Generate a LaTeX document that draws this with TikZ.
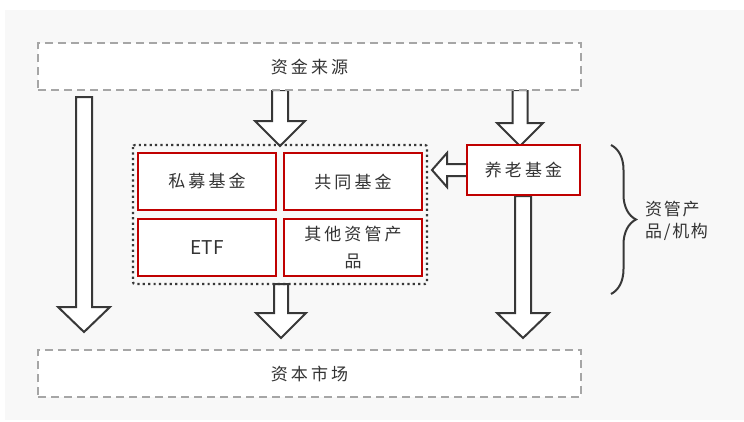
\documentclass[tikz,border=0pt]{standalone}
\usepackage{fontspec}
\setmainfont{Noto Sans CJK SC}
\usetikzlibrary{decorations.pathreplacing}
\definecolor{panel}{HTML}{F8F8F8}
\definecolor{dashgray}{HTML}{A6A6A6}
\definecolor{arrowdark}{HTML}{383838}
\definecolor{boxred}{HTML}{C00000}
\definecolor{txt}{HTML}{333333}
\newcommand\bkdown[6]{% cx, ytop, ybase, ytip, shafthalf, headhalf
  \draw[blockarrow] ({#1-#5},#2) -- ({#1+#5},#2) -- ({#1+#5},#3) -- ({#1+#6},#3)
    -- (#1,#4) -- ({#1-#6},#3) -- ({#1-#5},#3) -- cycle;}
\tikzset{
  dashbox/.style={draw=dashgray, line width=2pt, dash pattern=on 8pt off 5pt, fill=white,
    minimum width=543pt, minimum height=47pt, inner sep=0pt, text=txt,
    font=\fontsize{17pt}{20pt}\selectfont\addfontfeature{LetterSpace=18}},
  redbox/.style={draw=boxred, line width=2pt, fill=white, minimum width=138pt,
    minimum height=57pt, inner sep=0pt, text=txt, align=center,
    font=\fontsize{17pt}{27pt}\selectfont\addfontfeature{LetterSpace=18}},
  blockarrow/.style={draw=arrowdark, line width=2pt, fill=white, line join=miter},
  dotbox/.style={draw=arrowdark, line width=2.2pt, dash pattern=on 2.2pt off 3.2pt,
    rounded corners=2pt},
  bracetext/.style={text=txt, align=left, inner sep=0pt,
    font=\fontsize{17pt}{22pt}\selectfont\addfontfeature{LetterSpace=10}},
}
\begin{document}
\begin{tikzpicture}[x=1pt,y=-1pt]
\useasboundingbox (0,0) rectangle (744,421);
\fill[panel] (5,10) rectangle (744,420);
% block arrows
\bkdown{84}{97}{307}{332}{8}{26}
\bkdown{280}{90}{121}{146}{8}{25}
\bkdown{520}{90}{123}{146}{7.5}{23}
\bkdown{281}{284}{313}{338}{7}{25}
\bkdown{523}{196}{313}{338}{8}{26}
\draw[blockarrow] (470,164) -- (447,164) -- (447,153) -- (432,170) -- (447,187)
  -- (447,176) -- (470,176) -- cycle;
% boxes
\node[dashbox] (src) at (309.5,66.5) {资金来源};
\node[dashbox] (mkt) at (309.5,373.5) {资本市场};
\node[redbox] (pf) at (207,181.5) {私募基金};
\node[redbox] (mf) at (353,181.5) {共同基金};
\node[redbox, font=\fontsize{19pt}{20pt}\selectfont] (etf) at (207,247.5) {ETF};
\node[redbox] (oth) at (353,247.5) {其他资管产\\品};
\node[redbox, minimum width=113pt, minimum height=50pt] (pen) at (523.5,170) {养老基金};
\draw[dotbox] (133,145) rectangle (427,284);
% brace
\draw[arrowdark, line width=2pt, decorate,
  decoration={brace, amplitude=25pt, aspect=0.5}] (611,145) -- (611,294);
\node[bracetext, anchor=west] (lbl) at (645,221) {资管产\\品/机构};
\end{tikzpicture}
\end{document}
